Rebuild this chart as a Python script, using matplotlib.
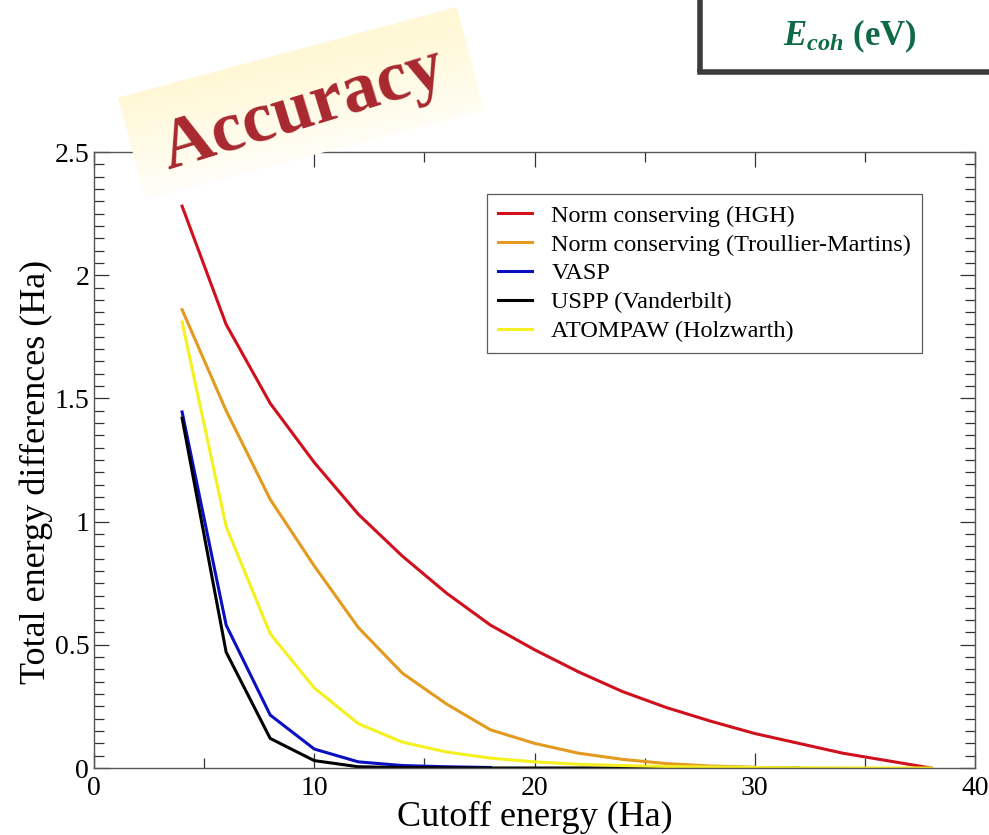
"""Convergence of total energy vs cutoff for several pseudopotentials."""

import matplotlib
matplotlib.use("Agg")
import matplotlib.pyplot as plt
import numpy as np
from matplotlib.patches import Rectangle
from matplotlib.ticker import MultipleLocator
import matplotlib.transforms as mtransforms

plt.rcParams["font.family"] = ["Liberation Serif", "DejaVu Serif"]
plt.rcParams["mathtext.fontset"] = "custom"
plt.rcParams["mathtext.it"] = "Liberation Serif:italic:bold"
plt.rcParams["mathtext.rm"] = "Liberation Serif:bold"

# data (cutoff in Ha, energy difference in Ha)
x_hgh = [4, 6, 8, 10, 12, 14, 16, 18, 20, 22, 24, 26, 28, 30, 32, 34, 36, 38]
y_hgh = [2.28, 1.80, 1.48, 1.24, 1.03, 0.86, 0.71, 0.58, 0.48, 0.39, 0.31,
         0.245, 0.19, 0.14, 0.10, 0.06, 0.03, 0.0]
x_tm = [4, 6, 8, 10, 12, 14, 16, 18, 20, 22, 24, 26, 28, 30]
y_tm = [1.86, 1.45, 1.09, 0.82, 0.57, 0.385, 0.26, 0.155, 0.10, 0.06, 0.035,
        0.018, 0.008, 0.003]
x_vasp = [4, 6, 8, 10, 12, 14, 16, 18]
y_vasp = [1.445, 0.58, 0.215, 0.077, 0.025, 0.01, 0.005, 0.002]
x_uspp = [4, 6, 8, 10, 12, 14, 16, 18, 20, 22, 24, 26, 28, 30, 32]
y_uspp = [1.42, 0.47, 0.12, 0.03, 0.005, 0.002, 0.001, 0.0, 0.0, 0.0, 0.0,
          0.0, 0.0, 0.0, 0.0]
x_paw = [4, 6, 8, 10, 12, 14, 16, 18, 20, 22, 24, 26, 28, 30, 32, 34, 36, 38]
y_paw = [1.81, 0.98, 0.545, 0.325, 0.18, 0.105, 0.065, 0.04, 0.025, 0.015,
         0.01, 0.006, 0.004, 0.002, 0.001, 0.0, 0.0, 0.0]

series = [
    ("Norm conserving (HGH)", x_hgh, y_hgh, "#d0101c"),
    ("Norm conserving (Troullier-Martins)", x_tm, y_tm, "#e39a1e"),
    ("VASP", x_vasp, y_vasp, "#0a10c0"),
    ("USPP (Vanderbilt)", x_uspp, y_uspp, "#000000"),
    ("ATOMPAW (Holzwarth)", x_paw, y_paw, "#f5f020"),
]

W, H = 989, 835
fig = plt.figure(figsize=(W / 100, H / 100), dpi=100)
ax = fig.add_axes([94 / W, 1 - 768 / H, 881 / W, 616 / H])

for label, xs, ys, color in series:
    ax.plot(xs, ys, color=color, lw=2.2, label=label)

ax.set_xlim(0, 40)
ax.set_ylim(0, 2.5)
ax.xaxis.set_major_locator(MultipleLocator(10))
ax.xaxis.set_minor_locator(MultipleLocator(5))
ax.yaxis.set_minor_locator(MultipleLocator(0.05))
ax.set_yticks([0, 0.5, 1, 1.5, 2, 2.5], ["0", "0.5", "1", "1.5", "2", "2.5"])
ax.tick_params(which="both", direction="in", top=True, right=True,
               labelsize=20, width=0.9, color="#333333")
ax.tick_params(axis="x", pad=6)
ax.tick_params(which="major", length=11)
ax.tick_params(which="minor", length=7)
for s in ax.spines.values():
    s.set_color("#555555")
    s.set_linewidth(1.0)

ax.set_xlabel("Cutoff energy (Ha)", fontsize=26, labelpad=0)
ax.set_ylabel("Total energy differences (Ha)", fontsize=26)
ax.yaxis.set_label_coords(-0.047, 0.48)

leg = ax.legend(loc="upper right", bbox_to_anchor=(0.940, 0.932), fontsize=17.5,
                frameon=True, fancybox=False, edgecolor="#333333",
                handlelength=1.4, handletextpad=0.8, labelspacing=0.28,
                borderpad=0.45, borderaxespad=0)
leg.get_frame().set_linewidth(0.9)

# overlay in image pixel coordinates for the decorations
ov = fig.add_axes([0, 0, 1, 1], facecolor="none", zorder=5)

# "Accuracy" banner: pale yellow fading to white toward the bottom
banner = Rectangle((145, 200), 350, -106, facecolor="none", edgecolor="none")
rot = mtransforms.Affine2D().rotate_deg_around(145, 200, -15)
banner.set_transform(rot + ov.transData)
ov.add_patch(banner)
yel = np.array([1.0, 0.972, 0.84])
v = np.linspace(0, 1, 100)[:, None]   # 0 top, 1 bottom
h = np.linspace(0, 1, 200)[None, :]   # 0 left, 1 right
strength = np.clip(1.0 - 0.85 * v + 0.15 * h, 0, 1)
grad = np.ones((100, 200, 4))
grad[..., :3] = 1 - (1 - yel)[None, None, :] * strength[..., None]
im = ov.imshow(grad, extent=(145, 495, 200, 94), origin="upper",
               transform=rot + ov.transData, interpolation="bilinear")
im.set_clip_path(banner)
ov.text(303, 110, "Accuracy", fontsize=52, fontweight="bold",
        color="#a8282e", rotation=17, ha="center", va="center",
        rotation_mode="anchor")

# top-right box
ov.plot([700, 700], [0, 72], lw=4, color="#3c3c3c", solid_capstyle="butt")
ov.plot([700, W], [72, 72], lw=4, color="#3c3c3c", solid_capstyle="projecting")
ov.text(850, 36, r"$E_{coh}$ (eV)", fontsize=25, fontweight="bold",
        color="#0f6b45", ha="center", va="center")

ov.set_xlim(0, W)
ov.set_ylim(H, 0)
ov.axis("off")

fig.savefig("out.png", dpi=100)
